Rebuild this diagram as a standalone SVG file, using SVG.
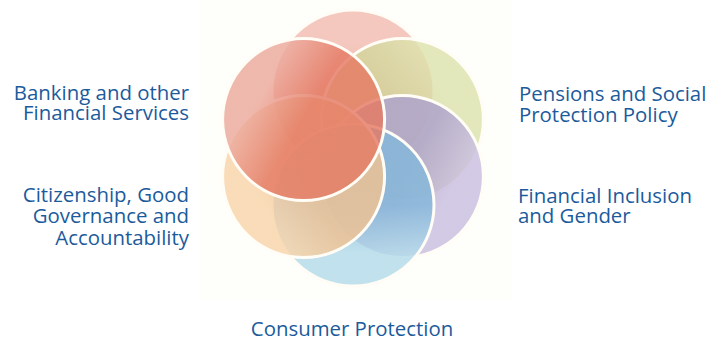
<svg xmlns="http://www.w3.org/2000/svg" width="713" height="343" viewBox="0 0 713 343">
  <style>
    .petal { stroke: #fffdf6; stroke-width: 3; fill-opacity: 0.82; }
    .lbl { font-family: "Open Sans", "Noto Sans", "Liberation Sans", sans-serif; font-size: 20.4px; font-weight: 500; fill: #1b5b9c; }
  </style>
  <defs>
    <linearGradient id="gTop" x1="0.5" y1="1" x2="0.5" y2="0">
      <stop offset="0" stop-color="#eba89a"/><stop offset="0.5" stop-color="#eba89a"/>
      <stop offset="0.8" stop-color="#f2bcb1"/><stop offset="1" stop-color="#f2bcb1"/>
    </linearGradient>
    <linearGradient id="gGreen" x1="0.067" y1="0.75" x2="0.933" y2="0.25">
      <stop offset="0" stop-color="#d3d59c"/><stop offset="0.5" stop-color="#d3d59c"/>
      <stop offset="0.8" stop-color="#dde3ae"/><stop offset="1" stop-color="#dde3ae"/>
    </linearGradient>
    <linearGradient id="gPurple" x1="0.067" y1="0.25" x2="0.933" y2="0.75">
      <stop offset="0" stop-color="#ada2cd"/><stop offset="0.5" stop-color="#ada2cd"/>
      <stop offset="0.8" stop-color="#c9bee0"/><stop offset="1" stop-color="#c9bee0"/>
    </linearGradient>
    <linearGradient id="gBlue" x1="0.5" y1="0" x2="0.5" y2="1">
      <stop offset="0" stop-color="#84b7da"/><stop offset="0.5" stop-color="#84b7da"/>
      <stop offset="0.8" stop-color="#b3dbea"/><stop offset="1" stop-color="#b3dbea"/>
    </linearGradient>
    <linearGradient id="gOrange" x1="0.933" y1="0.25" x2="0.067" y2="0.75">
      <stop offset="0" stop-color="#f0c292"/><stop offset="0.5" stop-color="#f0c292"/>
      <stop offset="0.8" stop-color="#f8d4aa"/><stop offset="1" stop-color="#f8d4aa"/>
    </linearGradient>
    <linearGradient id="gRed" x1="0.933" y1="0.75" x2="0.067" y2="0.25">
      <stop offset="0" stop-color="#e57a64"/><stop offset="0.5" stop-color="#e57a64"/>
      <stop offset="0.8" stop-color="#eca99c"/><stop offset="1" stop-color="#eca99c"/>
    </linearGradient>
  </defs>
  <rect x="0" y="0" width="713" height="343" fill="#ffffff"/>
  <rect x="200" y="0" width="312" height="300" fill="#fefefa"/>
  <g id="flower">
    <g id="petal-top"><circle class="petal" cx="353" cy="91" r="81" fill="url(#gTop)" fill-opacity="0.85"/></g>
    <g id="petal-pensions"><circle class="petal" cx="402.4" cy="119.5" r="81" fill="url(#gGreen)" fill-opacity="0.85"/></g>
    <g id="petal-inclusion"><circle class="petal" cx="402.4" cy="176.5" r="81" fill="url(#gPurple)" fill-opacity="0.85"/></g>
    <g id="petal-consumer"><circle class="petal" cx="353" cy="205" r="81" fill="url(#gBlue)" fill-opacity="0.8"/></g>
    <g id="petal-citizenship"><circle class="petal" cx="303.6" cy="176.5" r="81" fill="url(#gOrange)" fill-opacity="0.8"/></g>
    <g id="petal-banking"><circle class="petal" cx="303.6" cy="119.5" r="81" fill="url(#gRed)" fill-opacity="0.75"/></g>
  </g>
  <g id="labels">
    <g id="label-banking">
      <text class="lbl" text-anchor="end"><tspan x="189" y="100">Banking and other</tspan><tspan x="189" y="120">Financial Services</tspan></text>
    </g>
    <g id="label-citizenship">
      <text class="lbl" text-anchor="end"><tspan x="189" y="202">Citizenship, Good</tspan><tspan x="189" y="223">Governance and</tspan><tspan x="189" y="245">Accountability</tspan></text>
    </g>
    <g id="label-pensions">
      <text class="lbl"><tspan x="519" y="101">Pensions and Social</tspan><tspan x="519" y="122">Protection Policy</tspan></text>
    </g>
    <g id="label-inclusion">
      <text class="lbl"><tspan x="518" y="203">Financial Inclusion</tspan><tspan x="518" y="223">and Gender</tspan></text>
    </g>
    <g id="label-consumer">
      <text class="lbl" x="352" y="336" text-anchor="middle">Consumer Protection</text>
    </g>
  </g>
</svg>
